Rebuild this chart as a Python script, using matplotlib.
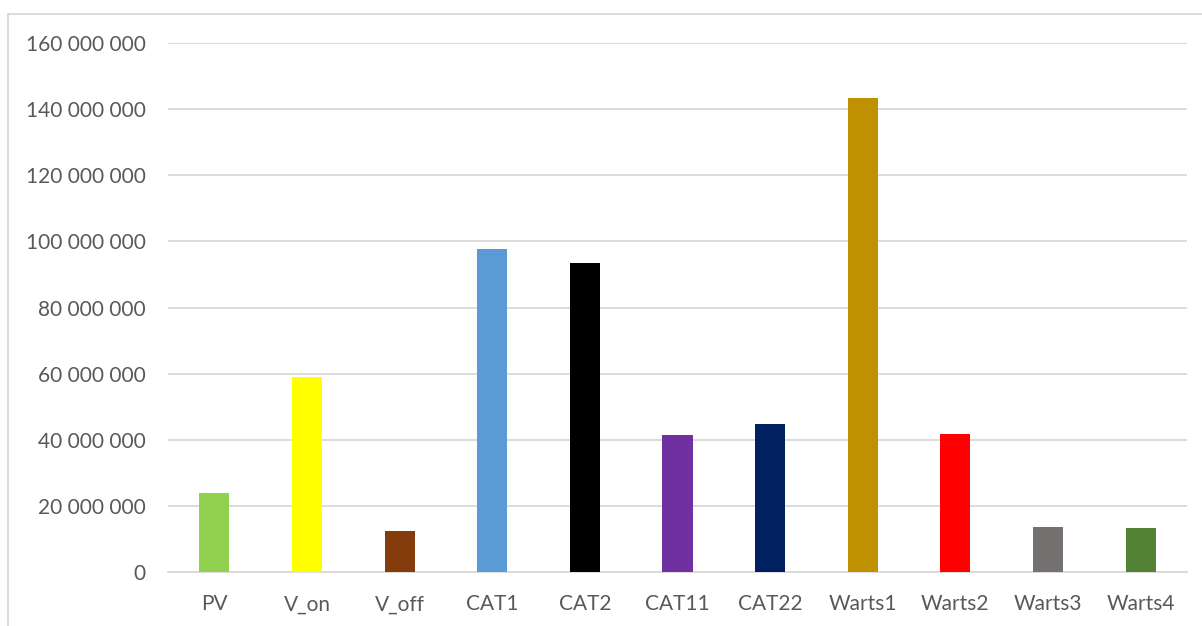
import matplotlib.pyplot as plt
from matplotlib.ticker import FuncFormatter
from matplotlib.lines import Line2D

categories = ['PV', 'V_on', 'V_off', 'CAT1', 'CAT2', 'CAT11', 'CAT22',
              'Warts1', 'Warts2', 'Warts3', 'Warts4']
values = [23.9e6, 59.0e6, 12.4e6, 97.6e6, 93.4e6, 41.4e6, 44.8e6,
          143.5e6, 41.7e6, 13.6e6, 13.3e6]
colors = ['#92d050', '#ffff00', '#843c0c', '#5b9bd5', '#000000', '#7030a0',
          '#002060', '#bf9000', '#ff0000', '#767171', '#548235']
yticks = [0, 20e6, 40e6, 60e6, 80e6, 100e6, 120e6, 140e6, 160e6]

plt.rcParams['font.family'] = ['Lato', 'DejaVu Sans']

fig = plt.figure(figsize=(12.02, 6.26), dpi=100)
W, H = 1202, 626
ax = fig.add_axes([168 / W, 1 - 572 / H, (1187 - 168) / W, (572 - 43) / H])

x = range(len(categories))
ax.bar(x, values, width=0.325, color=colors, zorder=3)

ax.set_xlim(-0.5, len(categories) - 0.5)
ax.set_ylim(0, 160e6)
ax.set_yticks(yticks)
ax.yaxis.set_major_formatter(FuncFormatter(lambda v, p: f'{int(v):,}'.replace(',', ' ')))
ax.set_xticks(list(x))
ax.set_xticklabels(categories)

ax.grid(axis='y', color='#d9d9d9', linewidth=1.3, zorder=0)
for s in ['top', 'right', 'left']:
    ax.spines[s].set_visible(False)
ax.spines['bottom'].set_color('#d9d9d9')
ax.spines['bottom'].set_linewidth(1.3)
ax.tick_params(axis='both', length=0, labelsize=15, colors='#595959')
ax.tick_params(axis='y', pad=16)
ax.tick_params(axis='x', pad=16)

# chart area border (top and left edges)
fig.add_artist(Line2D([8 / W, 1], [1 - 14 / H, 1 - 14 / H], color='#d9d9d9', linewidth=1.3))
fig.add_artist(Line2D([8 / W, 8 / W], [0, 1 - 14 / H], color='#d9d9d9', linewidth=1.3))

fig.savefig('out.png', dpi=100)
